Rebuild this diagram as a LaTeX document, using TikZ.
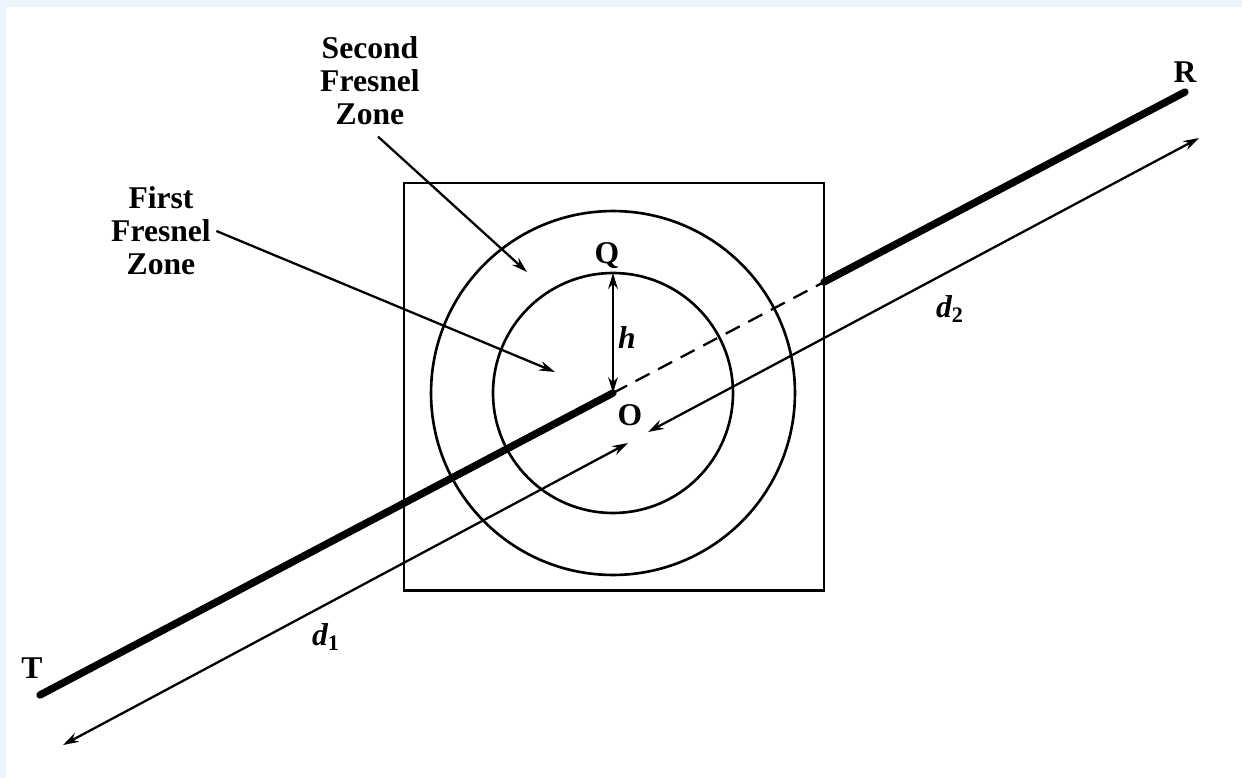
\documentclass[tikz,border=0pt]{standalone}
\usepackage{fontspec}
\setmainfont{Liberation Serif}
\usetikzlibrary{arrows.meta,positioning,calc}
\definecolor{scanblue}{RGB}{236,244,253}

\begin{document}
\begin{tikzpicture}[
    x=0.02cm, y=-0.02cm,
    lbl/.style={font=\fontsize{18}{18.7}\selectfont\bfseries, inner sep=1pt},
    slbl/.style={lbl, font=\fontsize{18}{18.7}\selectfont\bfseries\itshape},
    zonetext/.style={lbl, align=center, inner sep=3pt},
    pointer/.style={-{Stealth[length=9pt,width=5.5pt]}, line width=1.3pt},
    both/.style={{Stealth[length=9pt,width=5.5pt]}-{Stealth[length=9pt,width=5.5pt]}, line width=1.3pt},
    ray/.style={line width=4.2pt, line cap=round},
    zone/.style={line width=1.5pt}
]
    \useasboundingbox (0,0) rectangle (1242,778);
    \fill[scanblue] (0,0) rectangle (1242,7);
    \fill[scanblue] (0,0) rectangle (6,778);

    % screen with the two zones
    \draw[line width=1.7pt] (404,183) rectangle (824,590);
    \coordinate (O) at (613,393);
    \coordinate (Q) at (613,273);
    \draw[zone] (O) circle[radius=2.4cm];
    \draw[zone] (O) circle[radius=3.64cm];

    % direct path T -> R
    \coordinate (T) at (40,695);
    \coordinate (R) at (1185,92);
    \coordinate (exit) at (824,282);
    \draw[ray] (T) -- (O);
    \draw[line width=1.3pt, dash pattern=on 9pt off 5.5pt] (O) -- (exit);
    \draw[ray] (exit) -- (R);
    \draw[both] (Q) -- (O);

    \node[lbl] (qlab) at (607,256) {Q};
    \node[lbl] (olab) at (630,415) {O};
    \node[lbl] (tlab) at (32,668) {T};
    \node[lbl] (rlab) at (1185,72) {R};
    \node[slbl] (hlab) at (627,338) {h};

    % distances
    \coordinate (d1far) at (63,745);
    \coordinate (d1near) at (628,443);
    \coordinate (d2near) at (648,432);
    \coordinate (d2far) at (1199,138);
    \draw[both] (d1far) -- (d1near);
    \draw[both] (d2near) -- (d2far);
    \node[slbl] (d1lab) at (326,637) {d\textsubscript{\upshape 1}};
    \node[slbl] (d2lab) at (950,309) {d\textsubscript{\upshape 2}};

    % zone labels
    \node[zonetext] (second) at (370,81) {Second\\Fresnel\\Zone};
    \node[zonetext] (first) at (161,231) {First\\Fresnel\\Zone};
    \coordinate (zone2) at (527,272);
    \coordinate (zone1) at (555,372);
    \draw[pointer] ([shift={(8,6)}]second.south) -- (zone2);
    \draw[pointer] (first.east) -- (zone1);
\end{tikzpicture}
\end{document}
